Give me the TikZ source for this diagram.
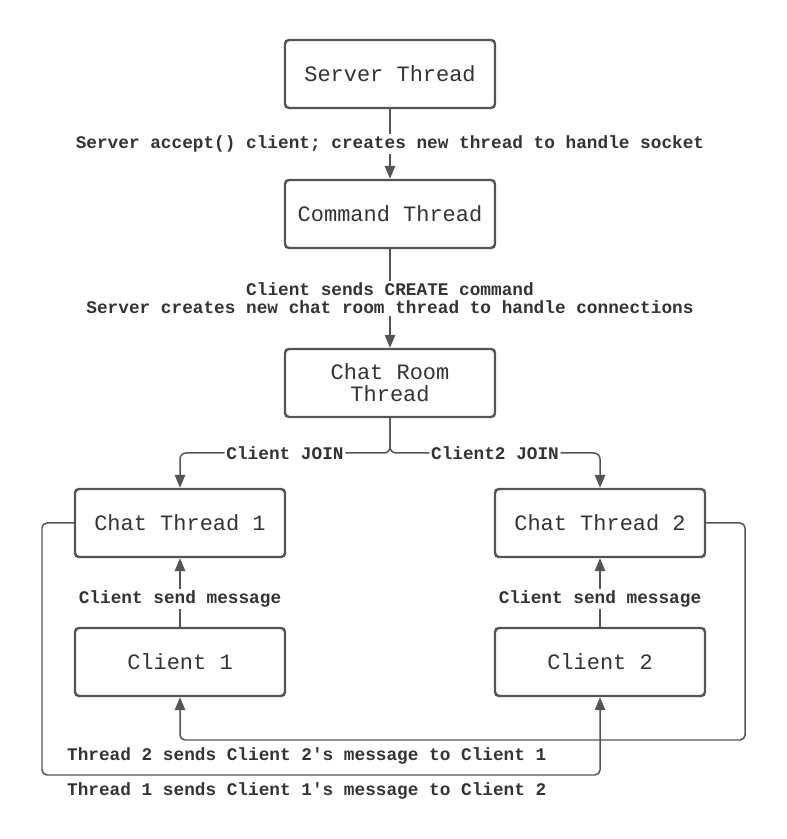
\documentclass[tikz,border=0pt]{standalone}
\usepackage{fontspec}
\setmonofont{Liberation Mono}
\usetikzlibrary{arrows.meta}

\begin{document}
\begin{tikzpicture}[
        threadbox/.style={draw=black!67,line width=1.4pt,rounded corners=0.08cm,minimum width=4.2cm,minimum height=1.36cm,align=center,text=black!80,font=\ttfamily\fontsize{12.5}{12.5}\selectfont},
        conn/.style={draw=black!67,line width=0.85pt,-{Triangle[length=0.26cm,width=0.21cm]}},
        msg/.style={fill=white,inner sep=1pt,text=black!80,align=center,font=\ttfamily\bfseries\fontsize{10.1}{10.2}\selectfont}]
                \useasboundingbox (0,0) rectangle (15.72,16.78);

                \node[threadbox] (server) at (7.8,15.3) {Server Thread};
                \node[threadbox] (command) at (7.8,12.5) {Command Thread};
                \node[threadbox] (room) at (7.8,9.12) {Chat Room\\Thread};
                \node[threadbox] (ct1) at (3.6,6.32) {Chat Thread 1};
                \node[threadbox] (ct2) at (12,6.32) {Chat Thread 2};
                \node[threadbox] (c1) at (3.6,3.54) {Client 1};
                \node[threadbox] (c2) at (12,3.54) {Client 2};

                \draw[conn] (server) -- node[msg] (accept) {Server accept() client; creates new thread to handle socket} (command);
                \draw[conn] (command) -- node[msg] (create) {Client sends CREATE command\\Server creates new chat room thread to handle connections} (room);

                \coordinate (fork) at (7.8,7.72);
                \draw[conn,rounded corners=0.12cm] (room.south) -- (fork) -| node[msg,pos=0.25] (join1) {Client JOIN} (ct1.north);
                \draw[conn,rounded corners=0.12cm] (room.south) -- (fork) -| node[msg,pos=0.25] (join2) {Client2 JOIN} (ct2.north);

                \draw[conn] (c1) -- node[msg,pos=0.4] (send1) {Client send message} (ct1);
                \draw[conn] (c2) -- node[msg,pos=0.4] (send2) {Client send message} (ct2);

                % relay paths between the two chat threads and the clients
                \coordinate (rturn) at (14.9,1.98);
                \coordinate (lturn) at (0.84,1.28);
                \draw[conn,rounded corners=0.1cm] (ct2.east) -| (rturn) -| (c1.south);
                \draw[conn,rounded corners=0.1cm] (ct1.west) -| (lturn) -| (c2.south);
                \node[msg,anchor=west] (relay2) at (1.3,1.66) {Thread 2 sends Client 2's message to Client 1};
                \node[msg,anchor=west,fill=none] (relay1) at (1.3,0.97) {Thread 1 sends Client 1's message to Client 2};
\end{tikzpicture}
\end{document}
